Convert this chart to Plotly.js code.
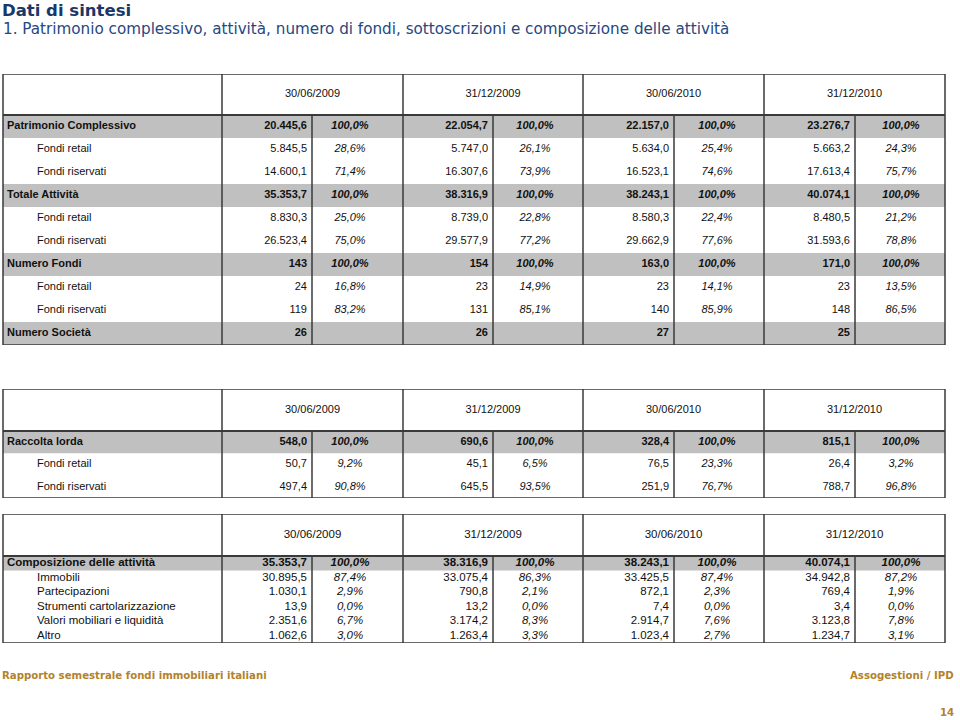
<!DOCTYPE html>
<html><head><meta charset="utf-8">
<script src="https://cdn.plot.ly/plotly-3.0.1.min.js"></script>
<style>html,body{margin:0;padding:0;background:#fff}#chart{width:960px;height:720px}</style>
</head><body><div id="chart"></div>
<script>
// ================= DATA =================
const dates = ['30/06/2009', '31/12/2009', '30/06/2010', '31/12/2010'];

// Table 1 – Patrimonio, attività, numero fondi
const t1Labels = ['Patrimonio Complessivo', 'Fondi retail', 'Fondi riservati', 'Totale Attività',
  'Fondi retail', 'Fondi riservati', 'Numero Fondi', 'Fondi retail', 'Fondi riservati', 'Numero Società'];
const t1Level = [0, 1, 1, 0, 1, 1, 0, 1, 1, 0];
const t1Val_0609 = ['20.445,6', '5.845,5', '14.600,1', '35.353,7', '8.830,3', '26.523,4', '143', '24', '119', '26'];
const t1Pct_0609 = ['100,0%', '28,6%', '71,4%', '100,0%', '25,0%', '75,0%', '100,0%', '16,8%', '83,2%', ''];
const t1Val_1209 = ['22.054,7', '5.747,0', '16.307,6', '38.316,9', '8.739,0', '29.577,9', '154', '23', '131', '26'];
const t1Pct_1209 = ['100,0%', '26,1%', '73,9%', '100,0%', '22,8%', '77,2%', '100,0%', '14,9%', '85,1%', ''];
const t1Val_0610 = ['22.157,0', '5.634,0', '16.523,1', '38.243,1', '8.580,3', '29.662,9', '163,0', '23', '140', '27'];
const t1Pct_0610 = ['100,0%', '25,4%', '74,6%', '100,0%', '22,4%', '77,6%', '100,0%', '14,1%', '85,9%', ''];
const t1Val_1210 = ['23.276,7', '5.663,2', '17.613,4', '40.074,1', '8.480,5', '31.593,6', '171,0', '23', '148', '25'];
const t1Pct_1210 = ['100,0%', '24,3%', '75,7%', '100,0%', '21,2%', '78,8%', '100,0%', '13,5%', '86,5%', ''];

// Table 2 – Raccolta lorda
const t2Labels = ['Raccolta lorda', 'Fondi retail', 'Fondi riservati'];
const t2Level = [0, 1, 1];
const t2Val_0609 = ['548,0', '50,7', '497,4'];
const t2Pct_0609 = ['100,0%', '9,2%', '90,8%'];
const t2Val_1209 = ['690,6', '45,1', '645,5'];
const t2Pct_1209 = ['100,0%', '6,5%', '93,5%'];
const t2Val_0610 = ['328,4', '76,5', '251,9'];
const t2Pct_0610 = ['100,0%', '23,3%', '76,7%'];
const t2Val_1210 = ['815,1', '26,4', '788,7'];
const t2Pct_1210 = ['100,0%', '3,2%', '96,8%'];

// Table 3 – Composizione delle attività
const t3Labels = ['Composizione delle attività', 'Immobili', 'Partecipazioni', 'Strumenti cartolarizzazione',
  'Valori mobiliari e liquidità', 'Altro'];
const t3Level = [0, 1, 1, 1, 1, 1];
const t3Val_0609 = ['35.353,7', '30.895,5', '1.030,1', '13,9', '2.351,6', '1.062,6'];
const t3Pct_0609 = ['100,0%', '87,4%', '2,9%', '0,0%', '6,7%', '3,0%'];
const t3Val_1209 = ['38.316,9', '33.075,4', '790,8', '13,2', '3.174,2', '1.263,4'];
const t3Pct_1209 = ['100,0%', '86,3%', '2,1%', '0,0%', '8,3%', '3,3%'];
const t3Val_0610 = ['38.243,1', '33.425,5', '872,1', '7,4', '2.914,7', '1.023,4'];
const t3Pct_0610 = ['100,0%', '87,4%', '2,3%', '0,0%', '7,6%', '2,7%'];
const t3Val_1210 = ['40.074,1', '34.942,8', '769,4', '3,4', '3.123,8', '1.234,7'];
const t3Pct_1210 = ['100,0%', '87,2%', '1,9%', '0,0%', '7,8%', '3,1%'];

// ================= LAYOUT CONSTANTS =================
const W = 960, H = 720;
const colEdges = [3, 222, 312, 403, 493, 583, 674, 764, 855, 945];
const pctCenters = [350, 535, 717, 901];
const labelX = [7, 37];           // x for level 0 / level 1 labels
const valPad = 5;
const lineColor = '#3a3a3a';
const bandColor = '#c0c0c0';
const txtColor = '#111111';

const tables = [
  {labels: t1Labels, level: t1Level, vals: [t1Val_0609, t1Val_1209, t1Val_0610, t1Val_1210],
   pcts: [t1Pct_0609, t1Pct_1209, t1Pct_0610, t1Pct_1210], top: 74, head: 115, bottom: 345, fs: 11},
  {labels: t2Labels, level: t2Level, vals: [t2Val_0609, t2Val_1209, t2Val_0610, t2Val_1210],
   pcts: [t2Pct_0609, t2Pct_1209, t2Pct_0610, t2Pct_1210], top: 389, head: 431, bottom: 498, fs: 11},
  {labels: t3Labels, level: t3Level, vals: [t3Val_0609, t3Val_1209, t3Val_0610, t3Val_1210],
   pcts: [t3Pct_0609, t3Pct_1209, t3Pct_0610, t3Pct_1210], top: 514, head: 556, bottom: 643, fs: 11.5}
];

const traces = [];
const shapes = [];
const layout = {
  width: W, height: H, margin: {l: 0, r: 0, t: 0, b: 0},
  paper_bgcolor: '#ffffff', plot_bgcolor: 'rgba(0,0,0,0)',
  showlegend: false,
  xaxis: {range: [0, W], visible: false, fixedrange: true, domain: [0, 1]},
  shapes: shapes,
  annotations: []
};

tables.forEach((t, ti) => {
  const n = t.labels.length;
  const rowH = (t.bottom - t.head) / n;
  const headRows = (t.head - t.top) / rowH;
  const yName = ti === 0 ? 'y' : 'y' + (ti + 1);
  const axName = ti === 0 ? 'yaxis' : 'yaxis' + (ti + 1);
  layout[axName] = {
    domain: [1 - t.bottom / H, 1 - t.top / H],
    range: [n - 0.5, -0.5 - headRows],
    visible: false, fixedrange: true, anchor: 'x'
  };
  const xs = [], ys = [], txt = [], pos = [];
  // header
  dates.forEach((d, g) => {
    xs.push((colEdges[1 + 2 * g] + colEdges[3 + 2 * g]) / 2);
    ys.push(-0.5 - headRows / 2);
    txt.push(d); pos.push('middle center');
  });
  for (let i = 0; i < n; i++) {
    const bold = t.level[i] === 0;
    xs.push(labelX[t.level[i]]); ys.push(i);
    txt.push(bold ? '<b>' + t.labels[i] + '</b>' : t.labels[i]); pos.push('middle right');
    for (let g = 0; g < 4; g++) {
      const v = t.vals[g][i];
      if (v !== '') {
        xs.push(colEdges[2 + 2 * g] - valPad); ys.push(i);
        txt.push(bold ? '<b>' + v + '</b>' : v); pos.push('middle left');
      }
      const p = t.pcts[g][i];
      if (p !== '') {
        xs.push(pctCenters[g]); ys.push(i);
        txt.push(bold ? '<b><i>' + p + '</i></b>' : '<i>' + p + '</i>'); pos.push('middle center');
      }
    }
    if (bold) {
      shapes.push({type: 'rect', xref: 'x', yref: yName, x0: colEdges[0], x1: colEdges[9],
        y0: i - 0.5, y1: i + 0.5, fillcolor: bandColor, line: {width: 0}, layer: 'below'});
    }
  }
  traces.push({
    type: 'scatter', mode: 'text', x: xs, y: ys, text: txt, textposition: pos,
    xaxis: 'x', yaxis: yName, cliponaxis: false, hoverinfo: 'skip',
    textfont: {family: '"Liberation Sans", Arial, sans-serif', size: t.fs, color: txtColor}
  });
  const yTop = -0.5 - headRows, yBot = n - 0.5;
  // outer box
  shapes.push({type: 'rect', xref: 'x', yref: yName, x0: colEdges[0], x1: colEdges[9], y0: yTop, y1: yBot,
    line: {color: lineColor, width: 1.5}, layer: 'above'});
  // header bottom
  shapes.push({type: 'line', xref: 'x', yref: yName, x0: colEdges[0], x1: colEdges[9], y0: -0.5, y1: -0.5,
    line: {color: lineColor, width: 2}, layer: 'above'});
  // group separators (full height) and value/pct separators (body only)
  for (let g = 0; g < 4; g++) {
    shapes.push({type: 'line', xref: 'x', yref: yName, x0: colEdges[1 + 2 * g], x1: colEdges[1 + 2 * g],
      y0: yTop, y1: yBot, line: {color: lineColor, width: 1.5}, layer: 'above'});
    shapes.push({type: 'line', xref: 'x', yref: yName, x0: colEdges[2 + 2 * g], x1: colEdges[2 + 2 * g],
      y0: -0.5, y1: yBot, line: {color: lineColor, width: 1.5}, layer: 'above'});
  }
});

// titles and footer
const footFont = {family: '"DejaVu Sans Condensed", "DejaVu Sans", sans-serif', size: 11.3, color: '#b3822c'};
layout.annotations.push(
  {text: '<b>Dati di sintesi</b>', xref: 'paper', yref: 'paper', x: 1 / W, y: 1 - 10.5 / H,
   xanchor: 'left', yanchor: 'middle', showarrow: false, borderpad: 0,
   font: {family: '"DejaVu Sans", Verdana, sans-serif', size: 16.5, color: '#1b3768'}},
  {text: '1. Patrimonio complessivo, attività, numero di fondi, sottoscrizioni e composizione delle attività',
   xref: 'paper', yref: 'paper', x: 1 / W, y: 1 - 29 / H, xanchor: 'left', yanchor: 'middle', showarrow: false,
   font: {family: '"DejaVu Sans", Verdana, sans-serif', size: 15.2, color: '#26477f'}},
  {text: '<b>Rapporto semestrale fondi immobiliari italiani</b>', xref: 'paper', yref: 'paper',
   x: 0, y: 1 - 675 / H, xanchor: 'left', yanchor: 'middle', showarrow: false, font: footFont},
  {text: '<b>Assogestioni / IPD</b>', xref: 'paper', yref: 'paper',
   x: 956 / W, y: 1 - 675 / H, xanchor: 'right', yanchor: 'middle', showarrow: false, font: footFont},
  {text: '<b>14</b>', xref: 'paper', yref: 'paper',
   x: 956 / W, y: 1 - 712 / H, xanchor: 'right', yanchor: 'middle', showarrow: false, font: footFont}
);

Plotly.newPlot('chart', traces, layout, {staticPlot: true, displayModeBar: false});
</script>
</body></html>
